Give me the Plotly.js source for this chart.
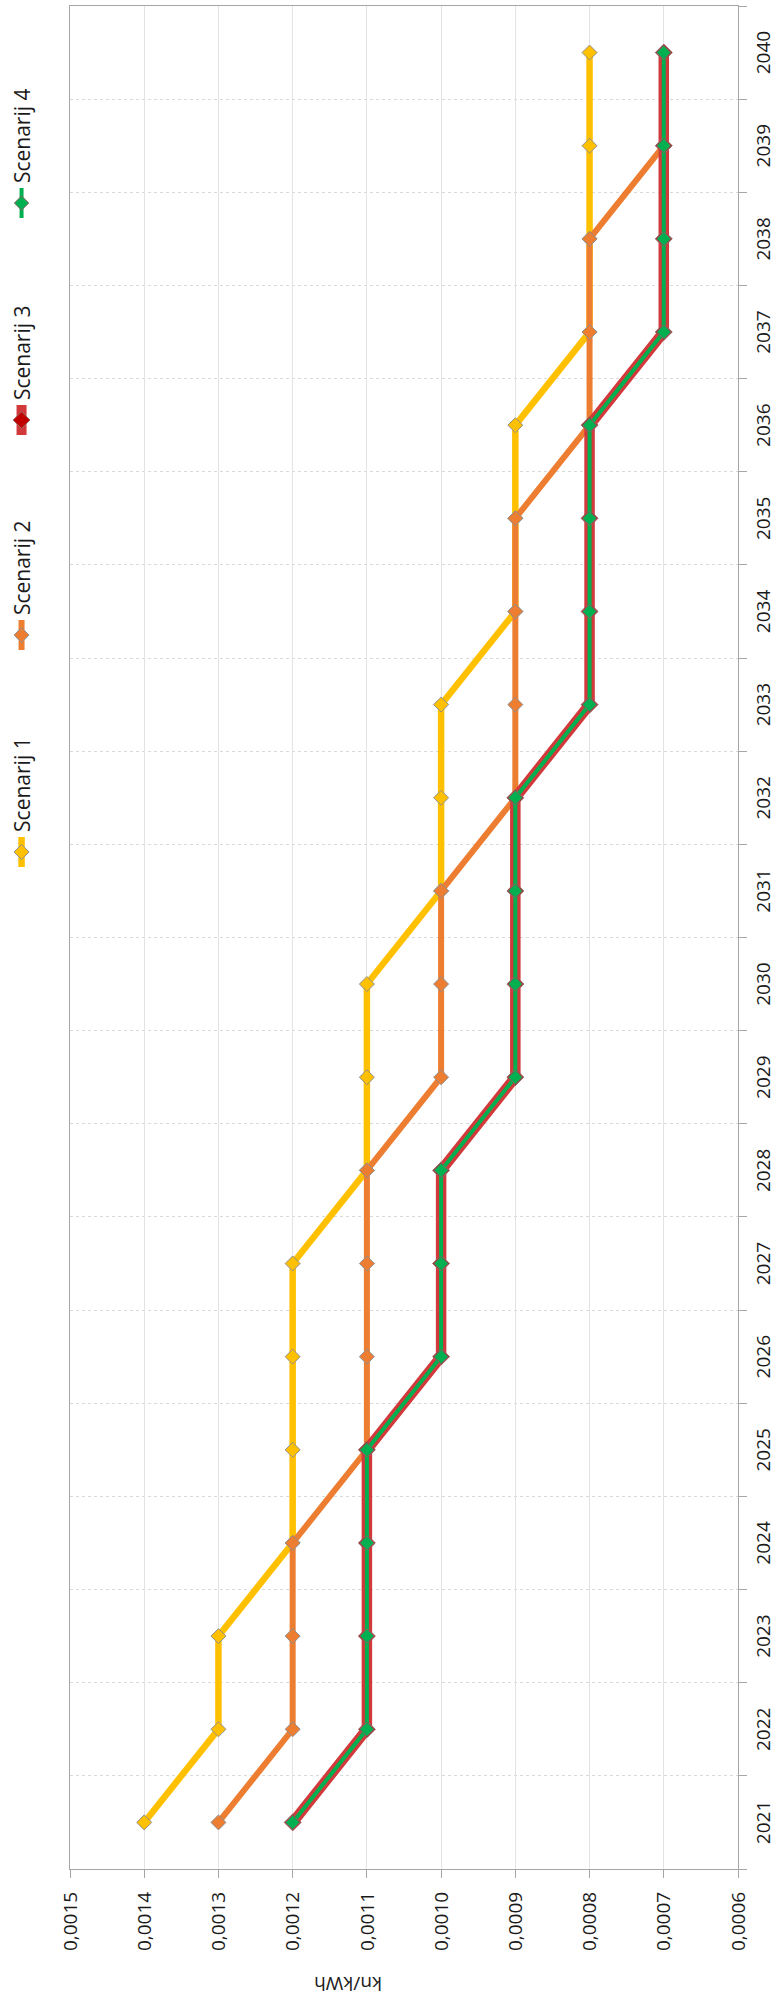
<!DOCTYPE html>
<html>
<head>
<meta charset="utf-8">
<script src="https://cdn.plot.ly/plotly-3.0.1.min.js"></script>
<style>
  html, body { margin: 0; padding: 0; background: #ffffff; overflow: hidden; }
  #wrap { position: absolute; left: 0; top: 0; width: 779px; height: 2004px; overflow: hidden; }
  #chart { position: absolute; left: 0; top: 0; width: 2004px; height: 779px;
           transform-origin: 0 0; transform: translateY(2004px) rotate(-90deg); }
</style>
</head>
<body>
<div id="wrap"><div id="chart"></div></div>
<script>
// ---- data ----
const years = ["2021","2022","2023","2024","2025","2026","2027","2028","2029","2030",
               "2031","2032","2033","2034","2035","2036","2037","2038","2039","2040"];
const scenarij1 = [0.0014,0.0013,0.0013,0.0012,0.0012,0.0012,0.0012,0.0011,0.0011,0.0011,
                   0.0010,0.0010,0.0010,0.0009,0.0009,0.0009,0.0008,0.0008,0.0008,0.0008];
const scenarij2 = [0.0013,0.0012,0.0012,0.0012,0.0011,0.0011,0.0011,0.0011,0.0010,0.0010,
                   0.0010,0.0009,0.0009,0.0009,0.0009,0.0008,0.0008,0.0008,0.0007,0.0007];
const scenarij3 = [0.0012,0.0011,0.0011,0.0011,0.0011,0.0010,0.0010,0.0010,0.0009,0.0009,
                   0.0009,0.0009,0.0008,0.0008,0.0008,0.0008,0.0007,0.0007,0.0007,0.0007];
const scenarij4 = [0.0012,0.0011,0.0011,0.0011,0.0011,0.0010,0.0010,0.0010,0.0009,0.0009,
                   0.0009,0.0009,0.0008,0.0008,0.0008,0.0008,0.0007,0.0007,0.0007,0.0007];
const seriesNames = ["Scenarij 1","Scenarij 2","Scenarij 3","Scenarij 4"];
const valueTicks = [0.0006,0.0007,0.0008,0.0009,0.0010,0.0011,0.0012,0.0013,0.0014,0.0015];
const axisTitle = "kn/kWh";

const FONT = "Open Sans, Liberation Sans, sans-serif";
const grey = "#a6a6a6";

const traces = [
  { x: years, y: scenarij1, name: seriesNames[0], legend: "legend", type: "scatter", mode: "lines+markers",
    line: { color: "#FFC000", width: 6.5 },
    marker: { symbol: "diamond", size: 11.5, color: "#FFC000", line: { color: "#8f8f8f", width: 1 } } },
  { x: years, y: scenarij2, name: seriesNames[1], legend: "legend2", type: "scatter", mode: "lines+markers",
    line: { color: "#ED7D31", width: 6 },
    marker: { symbol: "diamond", size: 11.5, color: "#ED7D31", line: { color: "#8f8f8f", width: 1 } } },
  { x: years, y: scenarij3, name: seriesNames[2], legend: "legend3", type: "scatter", mode: "lines+markers",
    line: { color: "#D1393B", width: 10.5 },
    marker: { symbol: "diamond", size: 13, color: "#C00000", line: { color: "#9a6a6a", width: 1 } } },
  { x: years, y: scenarij4, name: seriesNames[3], legend: "legend4", type: "scatter", mode: "lines+markers",
    line: { color: "#00B050", width: 4 },
    marker: { symbol: "diamond", size: 11, color: "#00B050", line: { color: "#8a6060", width: 1 } } }
];

function leg(x) {
  return { orientation: "h", x: x, xanchor: "left", y: 1.072, yanchor: "middle",
           font: { family: FONT, size: 21, color: "#1a1a1a" }, bgcolor: "rgba(0,0,0,0)" };
}

const layout = {
  width: 2004, height: 779,
  margin: { l: 135, r: 6, t: 70, b: 41, pad: 0, autoexpand: false },
  paper_bgcolor: "#ffffff", plot_bgcolor: "#ffffff",
  separators: ",.",
  font: { family: FONT, size: 19, color: "#1a1a1a" },
  showlegend: true,
  legend: leg(0.5352),
  legend2: leg(0.6516),
  legend3: leg(0.7670),
  legend4: leg(0.8835),
  xaxis: {
    type: "category", range: [-0.5, 19.5], tickson: "boundaries", ticks: "outside", ticklen: 8, tickcolor: grey,
    showline: true, linecolor: grey, linewidth: 1, mirror: true,
    showgrid: true, gridcolor: "#d9d9d9", griddash: "dot", gridwidth: 1,
    tickfont: { family: FONT, size: 19, color: "#1a1a1a" }, ticklabelstandoff: 8,
    zeroline: false
  },
  yaxis: {
    range: [0.0006, 0.0015], tickmode: "array", tickvals: valueTicks, tickformat: ".4f",
    ticks: "outside", ticklen: 8, tickcolor: grey,
    showline: true, linecolor: grey, linewidth: 1, mirror: true,
    showgrid: true, gridcolor: "#e3e3e3", gridwidth: 1, zeroline: false,
    tickfont: { family: FONT, size: 19, color: "#1a1a1a" }, ticklabelstandoff: 10
  },
  annotations: [{
    text: axisTitle, xref: "paper", yref: "paper", x: -0.0617, y: 0.584,
    xanchor: "center", yanchor: "middle", textangle: -90, showarrow: false,
    font: { family: FONT, size: 19, color: "#1a1a1a" }
  }]
};

Plotly.newPlot("chart", traces, layout, { staticPlot: true, responsive: false, displayModeBar: false });
</script>
</body>
</html>
